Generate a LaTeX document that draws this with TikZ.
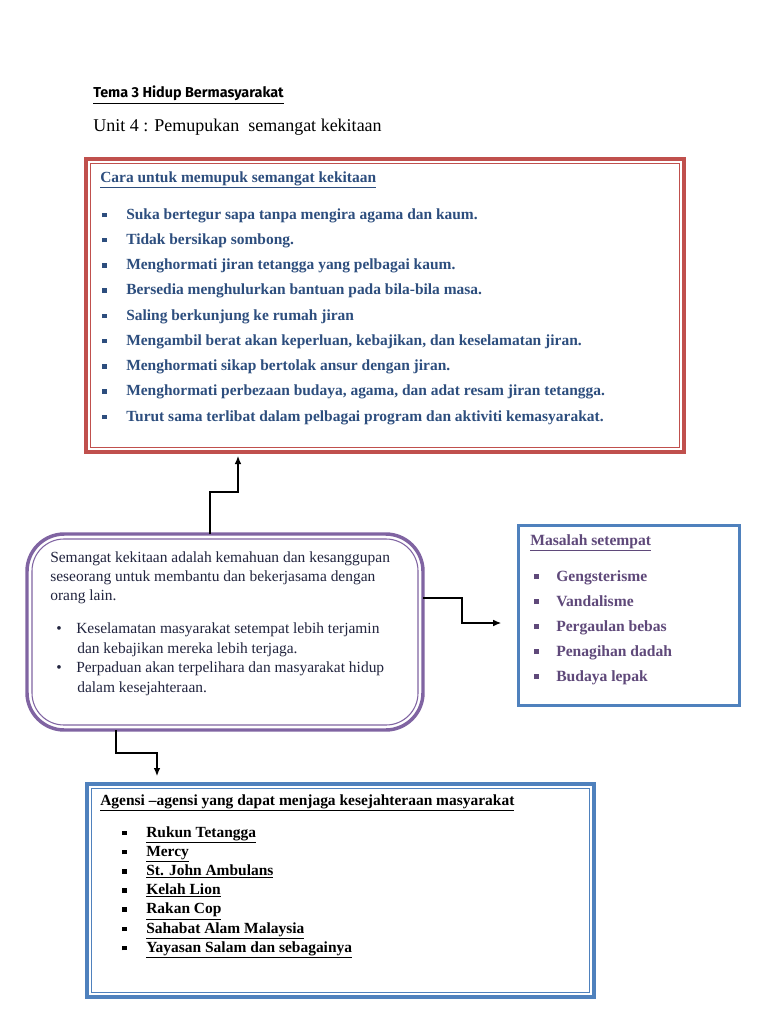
\documentclass[tikz,border=0pt]{standalone}
\usepackage{fontspec}
\setmainfont{Liberation Serif}
\newfontfamily\temafont{Fira Sans}
\usetikzlibrary{arrows.meta}

\definecolor{borderred}{HTML}{C0504D}
\definecolor{borderpurple}{HTML}{8064A2}
\definecolor{borderblue}{HTML}{4F81BD}
\definecolor{textblue}{HTML}{2D4E7E}
\definecolor{textpurple}{HTML}{5F497A}
\definecolor{textnavy}{HTML}{22253F}

\newcommand{\sqbullet}{\rule[0.12em]{0.3em}{0.3em}}
\newcommand{\sqitem}[2]{\makebox[#1][l]{\sqbullet}#2}
\newcommand{\dotitem}[1]{\makebox[15pt][l]{\textbullet}#1}

\begin{document}
\begin{tikzpicture}[x=0.75pt,y=-0.75pt]
\tikzstyle{every node}=[inner sep=0pt,anchor=base west,font=\fontsize{11.6}{13}\selectfont]
\tikzstyle{box}=[draw,anchor=center,outer sep=0pt,inner sep=0pt]
\tikzstyle{link}=[line width=0.9pt,-{Latex[length=6pt,width=5pt]}]

\fill[white] (0,0) rectangle (768,1024);
\useasboundingbox (0,0) rectangle (768,1024);

% headings
\node (tema) at (93,98) {\temafont\bfseries\fontsize{10.8}{12}\selectfont\underline{Tema 3 Hidup Bermasyarakat}};
\node (unit) at (93,132) {\fontsize{13.5}{15}\selectfont Unit 4 : Pemupukan\ \ semangat kekitaan};

% boxes
\node[box,draw=borderred,line width=2.6pt,minimum width=448.5pt,minimum height=219.75pt] (cara) at (385,305.5) {};
\draw[borderred,line width=0.8pt] ([shift={(4.5,4.5)}]cara.north west) rectangle ([shift={(-4.5,-4.5)}]cara.south east);

\node[box,draw=borderpurple,line width=2.6pt,rounded corners=28pt,minimum width=297pt,minimum height=147pt] (kekitaan) at (225,632) {};
\draw[borderpurple,line width=0.8pt,rounded corners=24pt] ([shift={(5,5)}]kekitaan.north west) rectangle ([shift={(-5,-5)}]kekitaan.south east);

\node[box,draw=borderblue,line width=2.2pt,minimum width=165.75pt,minimum height=135pt] (masalah) at (629,615.5) {};

\node[box,draw=borderblue,line width=2.6pt,minimum width=380.25pt,minimum height=159.75pt] (agensi) at (340.5,890.5) {};
\draw[borderblue,line width=0.8pt] ([shift={(4.5,4.5)}]agensi.north west) rectangle ([shift={(-4.5,-4.5)}]agensi.south east);

% Cara untuk memupuk
\begin{scope}[every node/.append style={text=textblue,font=\fontsize{11.6}{13}\selectfont\bfseries}]
\node (caratitle) at (100,182) {\underline{Cara untuk memupuk semangat kekitaan}};
\node (cara1) at (102,219) {\sqitem{18pt}{Suka bertegur sapa tanpa mengira agama dan kaum.}};
\node (cara2) at (102,244.3) {\sqitem{18pt}{Tidak bersikap sombong.}};
\node (cara3) at (102,269.5) {\sqitem{18pt}{Menghormati jiran tetangga yang pelbagai kaum.}};
\node (cara4) at (102,294.8) {\sqitem{18pt}{Bersedia menghulurkan bantuan pada bila-bila masa.}};
\node (cara5) at (102,320) {\sqitem{18pt}{Saling berkunjung ke rumah jiran}};
\node (cara6) at (102,345.3) {\sqitem{18pt}{Mengambil berat akan keperluan, kebajikan, dan keselamatan jiran.}};
\node (cara7) at (102,370.5) {\sqitem{18pt}{Menghormati sikap bertolak ansur dengan jiran.}};
\node (cara8) at (102,395.8) {\sqitem{18pt}{Menghormati perbezaan budaya, agama, dan adat resam jiran tetangga.}};
\node (cara9) at (102,421) {\sqitem{18pt}{Turut sama terlibat dalam pelbagai program dan aktiviti kemasyarakat.}};
\end{scope}

% Semangat kekitaan
\begin{scope}[every node/.append style={text=textnavy}]
\node (def1) at (50,562) {Semangat kekitaan adalah kemahuan dan kesanggupan};
\node (def2) at (50,581) {seseorang untuk membantu dan bekerjasama dengan};
\node (def3) at (50,600) {orang lain.};
\node (kesan1) at (56,633) {\dotitem{Keselamatan masyarakat setempat lebih terjamin}};
\node (kesan1b) at (77,653) {dan kebajikan mereka lebih terjaga.};
\node (kesan2) at (56,672) {\dotitem{Perpaduan akan terpelihara dan masyarakat hidup}};
\node (kesan2b) at (77,692) {dalam kesejahteraan.};
\end{scope}

% Masalah setempat
\begin{scope}[every node/.append style={text=textpurple,font=\fontsize{11.7}{13}\selectfont\bfseries}]
\node (masalahtitle) at (530,545) {\underline{Masalah setempat}};
\node (masalah1) at (534,581) {\sqitem{16.5pt}{Gengsterisme}};
\node (masalah2) at (534,606) {\sqitem{16.5pt}{Vandalisme}};
\node (masalah3) at (534,631) {\sqitem{16.5pt}{Pergaulan bebas}};
\node (masalah4) at (534,656) {\sqitem{16.5pt}{Penagihan dadah}};
\node (masalah5) at (534,681) {\sqitem{16.5pt}{Budaya lepak}};
\end{scope}

% Agensi
\begin{scope}[every node/.append style={font=\fontsize{11.6}{13}\selectfont\bfseries}]
\node (agensititle) at (100,805) {\underline{Agensi --agensi yang dapat menjaga kesejahteraan masyarakat}};
\node (agensi1) at (122,837) {\sqitem{18pt}{\underline{Rukun Tetangga}}};
\node (agensi2) at (122,856.2) {\sqitem{18pt}{\underline{Mercy}}};
\node (agensi3) at (122,875.4) {\sqitem{18pt}{\underline{St. John Ambulans}}};
\node (agensi4) at (122,894.6) {\sqitem{18pt}{\underline{Kelah Lion}}};
\node (agensi5) at (122,913.8) {\sqitem{18pt}{\underline{Rakan Cop}}};
\node (agensi6) at (122,933) {\sqitem{18pt}{\underline{Sahabat Alam Malaysia}}};
\node (agensi7) at (122,952.2) {\sqitem{18pt}{\underline{Yayasan Salam dan sebagainya}}};
\end{scope}

% connectors
\draw[link,shorten >=3pt] (210,0 |- kekitaan.north) -- (210,492) -- (238,492) -- (238,0 |- cara.south);
\draw[link,shorten >=13pt] (kekitaan.east |- 0,598) -- (462,598) -- (462,623) -- (masalah.west |- 0,623);
\draw[link,shorten >=6pt] (116,0 |- kekitaan.south) -- (116,753) -- (157,753) -- (157,0 |- agensi.north);

\end{tikzpicture}
\end{document}
